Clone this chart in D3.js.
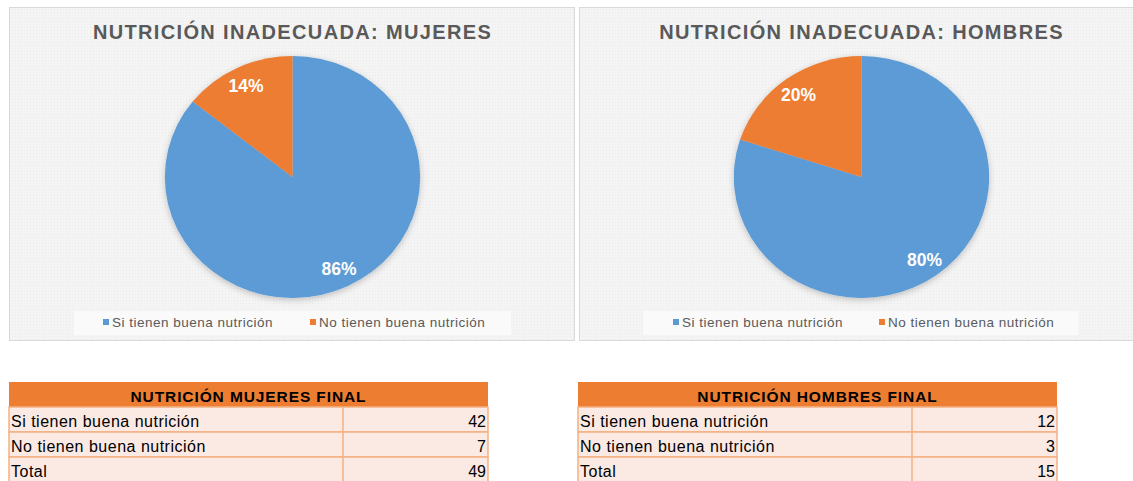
<!DOCTYPE html>
<html><head><meta charset="utf-8">
<script src="https://cdn.jsdelivr.net/npm/d3@7"></script>
<style>
body{margin:0;background:#fff;}
svg{display:block;font-family:Arial,"Liberation Sans",sans-serif;}
</style></head>
<body>
<svg id="chart" width="1133" height="481"></svg>
<script>
const categories = ["Si tienen buena nutrición", "No tienen buena nutrición"];
const mujeresValues = [42, 7];
const hombresValues = [12, 3];
const chartTitles = ["NUTRICIÓN INADECUADA: MUJERES", "NUTRICIÓN INADECUADA: HOMBRES"];
const tableTitles = ["NUTRICIÓN MUJERES FINAL", "NUTRICIÓN HOMBRES FINAL"];
const totalLabel = "Total";
const colors = ["#5B9BD5", "#ED7D31"];

const svg = d3.select("#chart");
const defs = svg.append("defs");
const pat = defs.append("pattern").attr("id","bgpat").attr("width",3).attr("height",3).attr("patternUnits","userSpaceOnUse");
pat.append("rect").attr("width",3).attr("height",3).attr("fill","#F4F4F4");
pat.append("rect").attr("width",1).attr("height",1).attr("fill","#EBEBEB");
const flt = defs.append("filter").attr("id","shadow").attr("x","-20%").attr("y","-20%").attr("width","140%").attr("height","140%");
flt.append("feDropShadow").attr("dx",0).attr("dy",2).attr("stdDeviation",3).attr("flood-color","#000").attr("flood-opacity",0.22);

const panels = [
  {x:9, w:566, cx:292.5, values:mujeresValues, title:chartTitles[0], table:tableTitles[0], tx:9, tw:479, div:343, legX:74, legW:437, lx:[103,310]},
  {x:579, w:560, cx:861.5, values:hombresValues, title:chartTitles[1], table:tableTitles[1], tx:578, tw:479, div:912, legX:643, legW:435, lx:[673,879]}
];

const pie = d3.pie().sort(null).value(d=>d);
const r = 121, cy = 177, sx = 1.055;
const arc = d3.arc().innerRadius(0).outerRadius(r);
const labelArc = d3.arc().innerRadius(r*0.84).outerRadius(r*0.84);

panels.forEach(p => {
  const g = svg.append("g");
  g.append("rect").attr("x",p.x+0.5).attr("y",7.5).attr("width",p.w-1).attr("height",333)
    .attr("fill","url(#bgpat)").attr("stroke","#D9D9D9");
  g.append("text").attr("x",p.cx).attr("y",39).attr("text-anchor","middle")
    .attr("font-size",20).attr("font-weight","bold").attr("fill","#595959").attr("letter-spacing",1.35)
    .text(p.title);
  const total = d3.sum(p.values);
  const arcs = pie(p.values);
  const pg = g.append("g").attr("transform",`translate(${p.cx},${cy})`);
  pg.append("g").attr("filter","url(#shadow)").append("g").attr("transform",`scale(${sx},1)`)
    .selectAll("path").data(arcs).join("path")
    .attr("d",arc).attr("fill",(d,i)=>colors[i]);
  pg.selectAll("text").data(arcs).join("text")
    .attr("transform",d=>{const c=labelArc.centroid(d);return `translate(${c[0]*sx},${c[1]})`;})
    .attr("text-anchor","middle").attr("dy","0.36em")
    .attr("font-size",17.5).attr("font-weight","bold").attr("fill","#fff")
    .text(d=>d3.format(".0%")(d.data/total));
  // legend
  g.append("rect").attr("x",p.legX).attr("y",311).attr("width",p.legW).attr("height",24).attr("fill","#FAFAFA");
  categories.forEach((c,i)=>{
    g.append("rect").attr("x",p.lx[i]).attr("y",319).attr("width",6).attr("height",6).attr("fill",colors[i]);
    g.append("text").attr("x",p.lx[i]+9).attr("y",327).attr("font-size",13.5).attr("letter-spacing",0.5)
      .attr("fill","#595959").text(c);
  });
  // table
  const t = svg.append("g");
  const rows = [[categories[0], p.values[0]],[categories[1], p.values[1]],[totalLabel, total]];
  t.append("rect").attr("x",p.tx).attr("y",382).attr("width",p.tw).attr("height",25).attr("fill","#ED7D31");
  t.append("text").attr("x",p.tx+p.tw/2).attr("y",402).attr("text-anchor","middle")
    .attr("font-size",15.5).attr("font-weight","bold").attr("letter-spacing",0.9).attr("fill","#000").text(p.table);
  rows.forEach((rw,i)=>{
    const y = 407 + i*25;
    t.append("rect").attr("x",p.tx).attr("y",y).attr("width",p.tw).attr("height",25)
      .attr("fill","#FBE9E4").attr("stroke","#F4B183").attr("stroke-width",1.5);
    t.append("line").attr("x1",p.div).attr("x2",p.div).attr("y1",y).attr("y2",y+25)
      .attr("stroke","#F4B183").attr("stroke-width",1.5);
    t.append("text").attr("x",p.tx+2).attr("y",y+20).attr("font-size",16).attr("letter-spacing",0.5).attr("fill","#000").text(rw[0]);
    t.append("text").attr("x",p.tx+p.tw-2).attr("y",y+20).attr("text-anchor","end").attr("font-size",16).attr("fill","#000").text(rw[1]);
  });
});
</script>
</body></html>
